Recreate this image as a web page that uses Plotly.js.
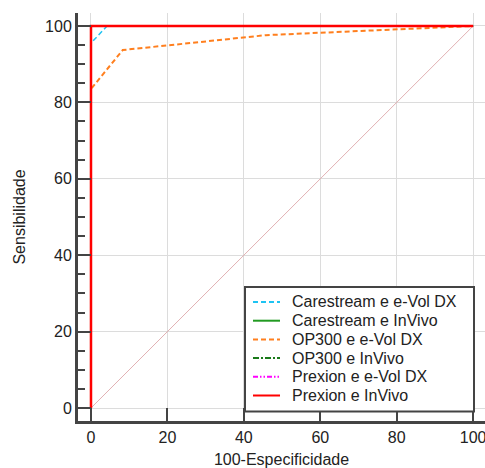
<!DOCTYPE html>
<html><head><meta charset="utf-8">
<script src="https://cdn.plot.ly/plotly-3.0.1.min.js"></script>
<style>html,body{margin:0;padding:0;background:#fff}#c{width:485px;height:468px}</style>
</head><body><div id="c"></div>
<script>
const names = ["Carestream e e-Vol DX","Carestream e InVivo","OP300 e e-Vol DX","OP300 e InVivo","Prexion e e-Vol DX","Prexion e InVivo"];
const carestreamEvolX = [0,0,4.2,100];
const carestreamEvolY = [0,95.5,100,100];
const carestreamInvivoX = [0,0,100];
const carestreamInvivoY = [0,100,100];
const op300EvolX = [0,0,8.3,45.8,100];
const op300EvolY = [0,83.5,93.7,97.6,100];
const op300InvivoX = [0,0,100];
const op300InvivoY = [0,100,100];
const prexionEvolX = [0,0,100];
const prexionEvolY = [0,100,100];
const prexionInvivoX = [0,0,100];
const prexionInvivoY = [0,100,100];
const diagX = [0,100];
const diagY = [0,100];
const xTicks = [0,20,40,60,80,100];
const yTicks = [0,20,40,60,80,100];

const FONT = 'Liberation Sans, Arial, sans-serif';
const lineStyles = [
  {color:'#1ec3f2',width:1.5,dash:'5px,3px'},
  {color:'#229a22',width:2},
  {color:'#ff7f1e',width:2,dash:'5px,3px'},
  {color:'#1a7a1a',width:1.5,dash:'6px,2px,2px,2px'},
  {color:'#ff00ff',width:1.5,dash:'5px,2px,1.5px,2px,1.5px,2px'},
  {color:'#ff0000',width:2.5}
];
const series = [
  [carestreamEvolX,carestreamEvolY],[carestreamInvivoX,carestreamInvivoY],
  [op300EvolX,op300EvolY],[op300InvivoX,op300InvivoY],
  [prexionEvolX,prexionEvolY],[prexionInvivoX,prexionInvivoY]
];
const traces = [{x:diagX,y:diagY,mode:'lines',line:{color:'rgb(226,178,180)',width:1},showlegend:false,hoverinfo:'skip'}];
const drawOrder = [1,3,4,2,0,5];
drawOrder.forEach(i=>traces.push({x:series[i][0],y:series[i][1],name:names[i],mode:'lines',line:lineStyles[i],showlegend:false}));

// custom legend (paper coords from pixel layout)
const L=78,W=407,B=421,H=408;
const px=v=>(v-L)/W, py=v=>(B-v)/H;
const shapes=[{type:'rect',xref:'paper',yref:'paper',x0:px(245),x1:px(474),y0:py(411.5),y1:py(287),
  fillcolor:'#fff',line:{color:'#444',width:2},layer:'above'}];
const annotations=[];
names.forEach((n,i)=>{
  const yc=302+i*18.7;
  shapes.push({type:'line',xref:'paper',yref:'paper',x0:px(253),x1:px(280),y0:py(yc),y1:py(yc),
    line:Object.assign({},lineStyles[i],{width:2}),layer:'above'});
  annotations.push({xref:'paper',yref:'paper',x:px(290),y:py(yc),xanchor:'left',yanchor:'middle',
    text:n,showarrow:false,font:{family:FONT,size:16,color:'#222'}});
});

const axisCommon = {
  showline:true, linecolor:'#444', linewidth:3, mirror:false,
  ticks:'inside', ticklen:13, tickwidth:2, tickcolor:'#444',
  showgrid:true, gridcolor:'#dcdcdc', gridwidth:1, zeroline:false,
  tickfont:{family:FONT,size:16,color:'#222'},
  tickmode:'array', ticklabeloverflow:'allow'
};
const layout = {
  width:485,height:468,
  margin:{l:78,r:0,t:13,b:47},
  paper_bgcolor:'#fff',plot_bgcolor:'#fff',
  font:{family:FONT,size:16,color:'#222'},
  xaxis:Object.assign({},axisCommon,{range:[-3.4,103.1],tickvals:xTicks,ticktext:xTicks.map(String),
    title:{text:'100-Especificidade',font:{size:16,color:'#222'},standoff:11}}),
  yaxis:Object.assign({},axisCommon,{range:[-3.4,103.4],tickvals:yTicks,ticktext:yTicks.map(String),
    minor:{dtick:5,ticks:'inside',ticklen:7,tickwidth:2,tickcolor:'#444',showgrid:false},
    title:{text:'Sensibilidade',font:{size:16,color:'#222'},standoff:16}}),
  shapes:shapes, annotations:annotations,
  showlegend:false
};
Plotly.newPlot('c',traces,layout,{displayModeBar:false,staticPlot:true});
</script></body></html>
